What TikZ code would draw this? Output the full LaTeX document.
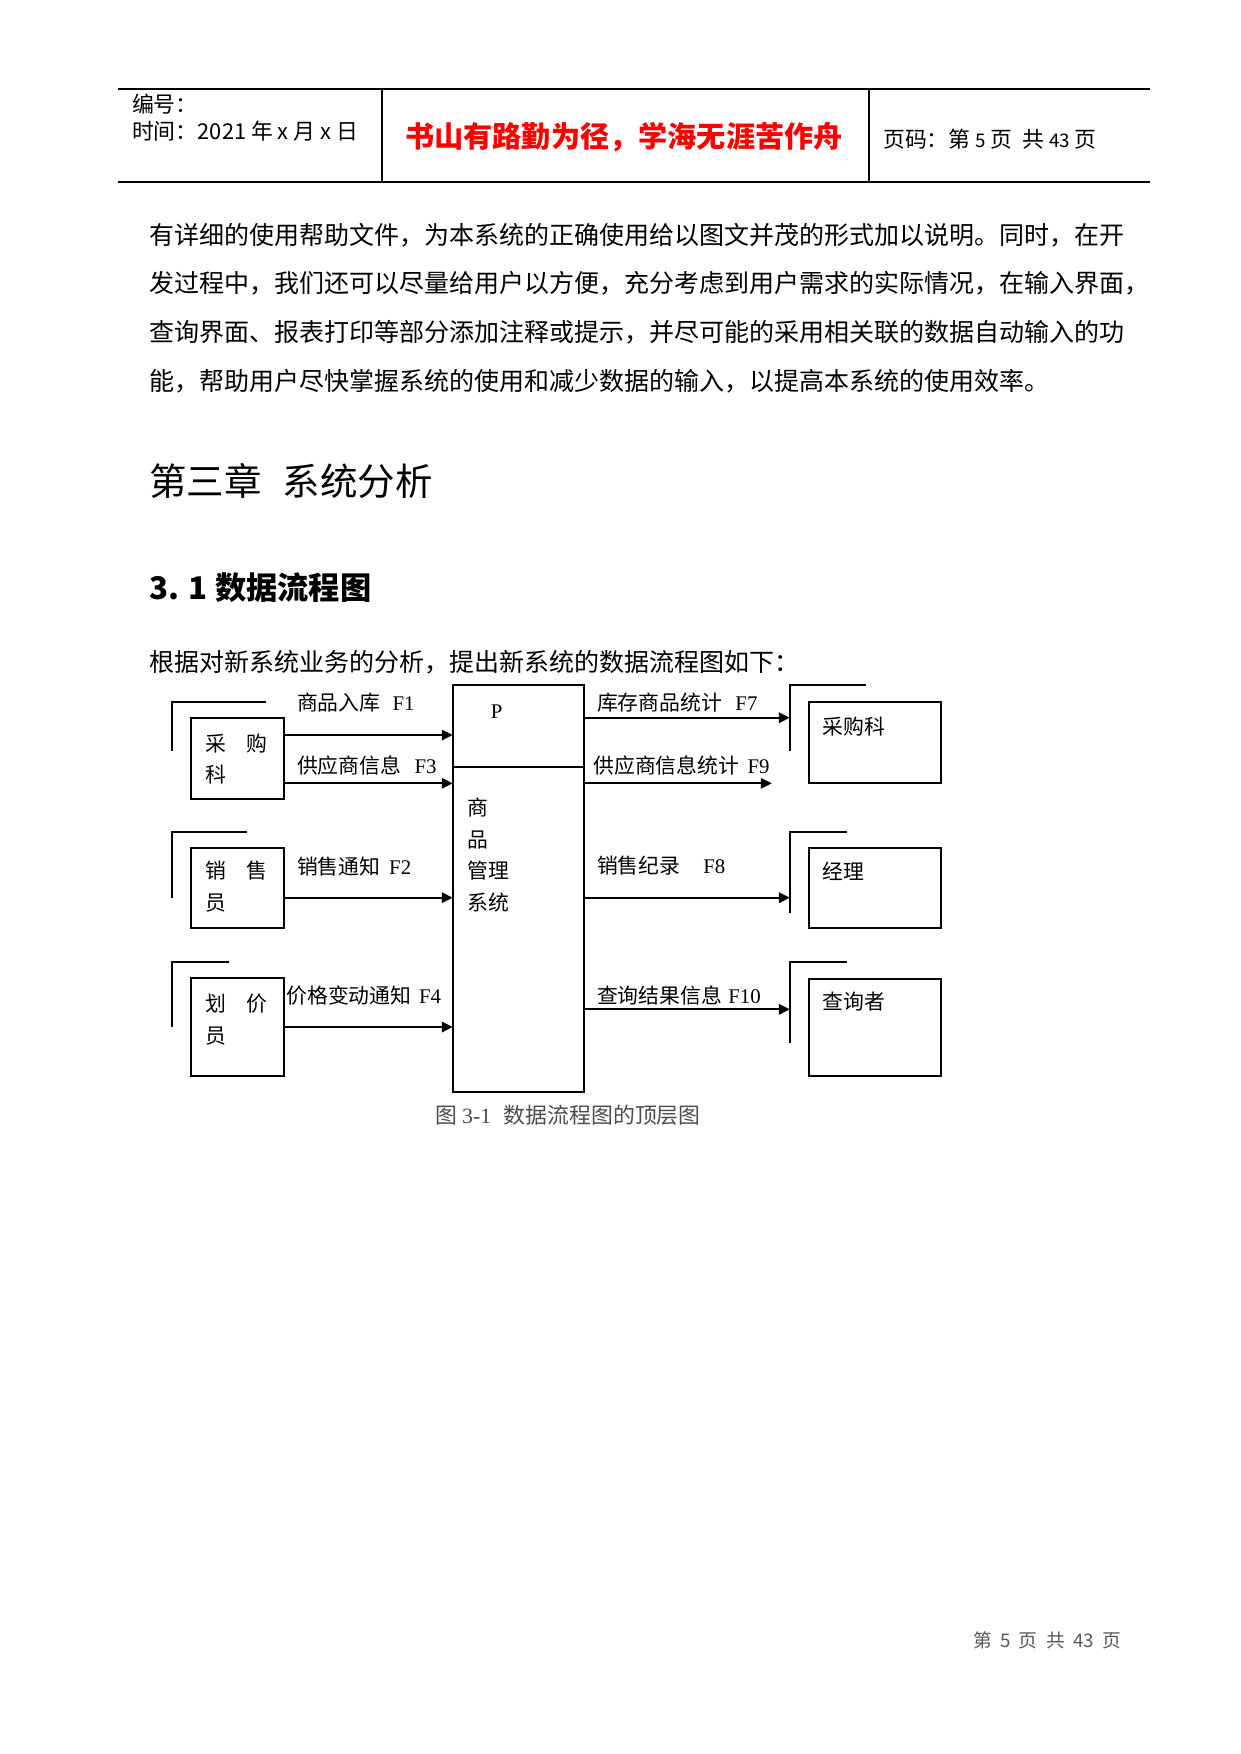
\documentclass[tikz,border=0pt]{standalone}
\usepackage{fontspec}
\usepackage{xcolor}
\usepackage{tikz}
\usetikzlibrary{positioning, arrows.meta, calc}
\newfontfamily\cjk{Noto Sans CJK SC}
\newfontfamily\tms{Liberation Serif}
\definecolor{mottoRed}{HTML}{FF0000}
\definecolor{capGray}{HTML}{4D4D4D}
\definecolor{footGray}{HTML}{595959}
\tikzset{
  entity/.style={
    rectangle, draw=black, line width=0.9pt,
    inner xsep=6.8pt, inner ysep=0pt, outer sep=0pt,
    align=left, font=\cjk\fontsize{10pt}{15pt}\selectfont
  },
  process/.style={
    rectangle, draw=black, line width=0.9pt,
    inner xsep=7.3pt, inner ysep=0pt, outer sep=0pt,
    text width=48.6pt, text height=62.7pt, text depth=132.5pt,
    align=left, font=\cjk\fontsize{10pt}{15.2pt}\selectfont
  },
  backline/.style={black, line width=0.9pt},
  flow/.style={
    -{Triangle[length=5.2pt, width=5pt]},
    black, line width=0.9pt
  },
  flowlabel/.style={anchor=west, inner sep=0pt, font=\cjk\fontsize{10pt}{12pt}\selectfont},
  bodytext/.style={anchor=west, inner sep=0pt, font=\cjk\fontsize{12pt}{14pt}\selectfont},
  headtext/.style={anchor=west, inner sep=0pt, font=\cjk\fontsize{10.5pt}{12pt}\selectfont},
  rule/.style={black, line width=0.8pt}
}
\newcommand{\fno}[1]{{\tms #1}}

\begin{document}
\begin{tikzpicture}[x=0.48pt, y=-0.48pt]
      \fill[white] (0,0) rectangle (1241,1754);
      \useasboundingbox (0,0) rectangle (1241,1754);
      % page header
      \draw[rule] (118.3,89.3) -- (1150,89.3);
      \draw[rule] (118.3,181.7) -- (1150,181.7);
      \draw[rule] (381.7,89.3) -- (381.7,181.7);
      \draw[rule] (869.3,89.3) -- (869.3,181.7);
      \node[headtext] (bianhao) at (131.7,104) {编号：};
      \node[headtext] (shijian) at (131.7,131) {时间：2021 年 x 月 x 日};
      \node[inner sep=0pt, text=mottoRed, font=\cjk\bfseries\fontsize{14pt}{16pt}\selectfont] (motto) at (624,137.5) {书山有路勤为径，学海无涯苦作舟};
      \node[headtext] (yema) at (882.7,139.3) {页码：第 {\fontsize{9pt}{10pt}\selectfont 5} 页\ \ 共 {\fontsize{9pt}{10pt}\selectfont 43} 页};
      % body text
      \node[bodytext] (para1) at (149,235) {有详细的使用帮助文件，为本系统的正确使用给以图文并茂的形式加以说明。同时，在开};
      \node[bodytext] (para2) at (149,283) {发过程中，我们还可以尽量给用户以方便，充分考虑到用户需求的实际情况，在输入界面，};
      \node[bodytext] (para3) at (149,332.4) {查询界面、报表打印等部分添加注释或提示，并尽可能的采用相关联的数据自动输入的功};
      \node[bodytext] (para4) at (149,381.6) {能，帮助用户尽快掌握系统的使用和减少数据的输入，以提高本系统的使用效率。};
      \node[anchor=west, inner sep=0pt, font=\cjk\fontsize{18pt}{20pt}\selectfont] (chap) at (149,481) {第三章\hspace{10pt}系统分析};
      \node[anchor=west, inner sep=0pt, font=\cjk\bfseries\fontsize{15pt}{18pt}\selectfont] (sec) at (149,587.5) {3. 1 数据流程图};
      \node[bodytext] (intro) at (149,662) {根据对新系统业务的分析，提出新系统的数据流程图如下：};
      % data flow diagram
      \node[process] (p) at (518.5,888.35) {商\\品\\管理\\系统};
      \node[inner sep=0pt, font=\tms\fontsize{10pt}{12pt}\selectfont] (plabel) at (496.7,711.7) {P};
      \draw[backline] (p.north west) ++(0,81.7) coordinate (pdiv) -- (pdiv -| p.east);
      \node[entity, text width=31.2pt, text height=16pt, text depth=23pt] (cg) at (237.5,758.35) {采\quad 购\\科};
      \node[entity, text width=31.2pt, text height=15pt, text depth=23.7pt] (xs) at (237.5,888) {销\quad 售\\员};
      \node[entity, text width=31.2pt, text height=16.1pt, text depth=30.65pt] (hj) at (237.5,1027) {划\quad 价\\员};
      \node[entity, text width=49.8pt, text height=15.5pt, text depth=23.4pt] (cgk) at (874.85,742.8) {采购科};
      \node[entity, text width=49.8pt, text height=15.3pt, text depth=23.4pt] (jl) at (874.85,888) {经理};
      \node[entity, text width=49.8pt, text height=14.7pt, text depth=31.7pt] (cxz) at (874.85,1027.35) {查询者};
      \draw[backline] (cg.north west) ++(75.3,-15.4) -- ++(-94.3,0) -- ++(0,48.7);
      \draw[backline] (xs.north west) ++(56.3,-15.4) -- ++(-75.3,0) -- ++(0,65.7);
      \draw[backline] (hj.north west) ++(38.3,-16.6) -- ++(-57.3,0) -- ++(0,65.3);
      \draw[backline] (cgk.north west) ++(57,-17.3) -- ++(-76,0) coordinate (cgks) -- ++(0,66);
      \draw[backline] (jl.north west) ++(38.3,-15.4) -- ++(-57.3,0) coordinate (jls) -- ++(0,81);
      \draw[backline] (cxz.north west) ++(38.3,-17.3) -- ++(-57.3,0) coordinate (cxzs) -- ++(0,81);
      \draw[flow] (cg.east) ++(0,-23.35) coordinate (f1) -- (f1 -| p.west);
      \draw[flow] (cg.east) ++(0,24.95) coordinate (f3) -- (f3 -| p.west);
      \draw[flow] (xs.east) ++(0,9.7) coordinate (f2) -- (f2 -| p.west);
      \draw[flow] (hj.east) -- (hj.east -| p.west);
      \draw[flow] (p.east) ++(0,-170.65) coordinate (f7) -- (f7 -| cgks);
      \draw[flow] (p.east) ++(0,-105.05) coordinate (f9) -- ++(187.4,0) coordinate (f9end);
      \draw[flow] (p.east) ++(0,9.35) coordinate (f8) -- (f8 -| jls);
      \draw[flow] (p.east) ++(0,120.95) coordinate (f10) -- (f10 -| cxzs);
      \node[flowlabel] (l1) at (296.7,703) {商品入库\hspace{5.8pt}\fno{F1}};
      \node[flowlabel] (l3) at (296.7,766) {供应商信息\hspace{6.4pt}\fno{F3}};
      \node[flowlabel] (l2) at (296.7,866.5) {销售通知\hspace{4.2pt}\fno{F2}};
      \node[flowlabel] (l4) at (286,996) {价格变动通知\hspace{3.7pt}\fno{F4}};
      \node[flowlabel] (l7) at (596.7,703) {库存商品统计\hspace{6.4pt}\fno{F7}};
      \node[flowlabel] (l9) at (593,766) {供应商信息统计\hspace{4pt}\fno{F9}};
      \node[flowlabel] (l8) at (596.7,866) {销售纪录\hspace{11pt}\fno{F8}};
      \node[flowlabel] (l10) at (596.7,995) {查询结果信息\hspace{3pt}\fno{F10}};
      \node[anchor=west, inner sep=0pt, text=capGray, font=\cjk\fontsize{10.5pt}{12pt}\selectfont] (caption) at (435,1115.7) {图 \fno{3-1}\hspace{6pt}数据流程图的顶层图};
      % page footer
      \node[anchor=west, inner sep=0pt, text=footGray, font=\cjk\fontsize{9pt}{11pt}\selectfont] (footer) at (972.7,1640.7) {第\hspace{4pt}5\hspace{4pt}页\hspace{4pt}共\hspace{4pt}43\hspace{4pt}页};
\end{tikzpicture}
\end{document}
